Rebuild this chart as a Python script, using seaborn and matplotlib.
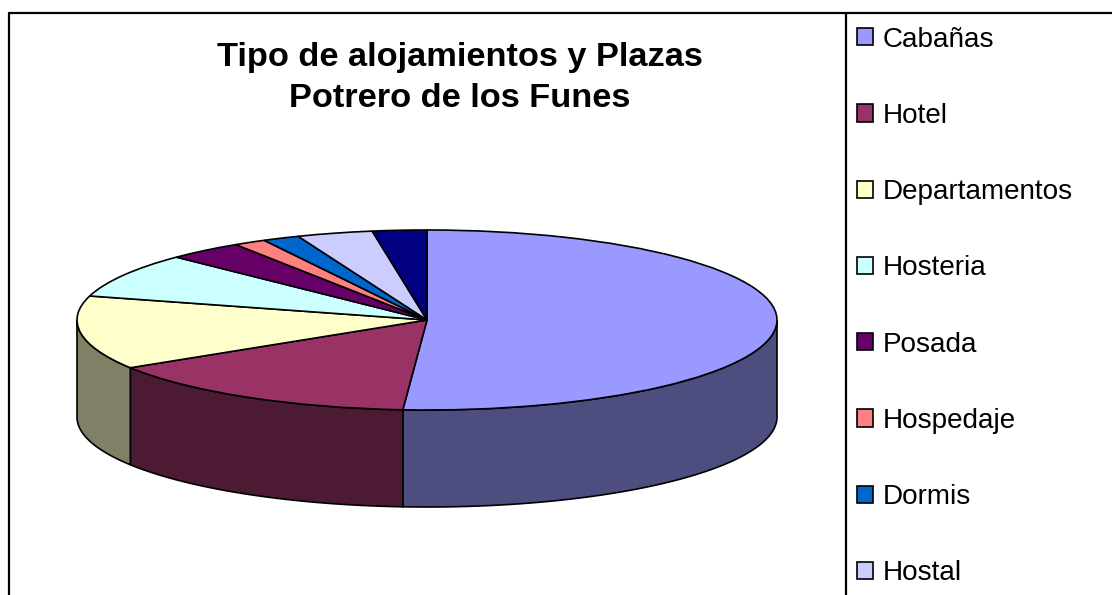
import numpy as np
import matplotlib
matplotlib.use('Agg')
import matplotlib.pyplot as plt
from matplotlib.lines import Line2D
import seaborn as sns

# values, share of plazas in %
categories = ['Cabañas', 'Hotel', 'Departamentos', 'Hosteria', 'Posada',
              'Hospedaje', 'Dormis', 'Hostal']
values = [51.1, 15.0, 13.2, 8.0, 3.5, 1.5, 1.7, 3.5, 2.5]  # last slice has no visible legend row
colors = ['#9999FF', '#993366', '#FFFFCC', '#CCFFFF', '#660066',
          '#FF8080', '#0066CC', '#CCCCFF', '#000080']
title = 'Tipo de alojamientos y Plazas\nPotrero de los Funes'

sns.set_theme(style='white')
plt.rcParams['font.family'] = ['Liberation Sans', 'DejaVu Sans']

W, H = 1112, 595
cx, cy, rx, ry, depth = 427, 320, 350, 90, 97

fig = plt.figure(figsize=(W / 100, H / 100), dpi=100)
ax = fig.add_axes([0, 0, 1, 1])

palette = sns.color_palette(colors)
wedges, _ = ax.pie(values, colors=palette, startangle=90, counterclock=False,
                   wedgeprops={'edgecolor': 'black', 'linewidth': 1.2, 'zorder': 3})

# axes span the whole figure, the unit circle becomes the ellipse of the top
ax.set_aspect('auto')
ax.set_xlim(-cx / rx, (W - cx) / rx)
ax.set_ylim((cy - H) / ry, cy / ry)
ax.axis('off')

# side wall of the slices that face the viewer
drop = depth / ry
ends = 90 - np.cumsum(values) * 3.6
starts = np.r_[90, ends[:-1]]
for a0, a1, col in zip(starts, ends, palette):
    a0 = min(a0, 0)
    a1 = max(a1, -180)
    if a1 >= a0:
        continue
    t = np.radians(np.linspace(a0, a1, 120))
    xs = np.r_[np.cos(t), np.cos(t[::-1])]
    ys = np.r_[np.sin(t), np.sin(t[::-1]) - drop]
    ax.fill(xs, ys, facecolor=tuple(c * 0.5 for c in col), edgecolor='black',
            linewidth=1.2, zorder=2)

fig.text(460 / W, 1 - 78 / H, title, ha='center', va='center', fontsize=24.75,
         fontweight='bold', color='black', linespacing=1.4)

# chart frame and legend divider, cut by the bottom and right edge
frame = dict(color='black', linewidth=1.6, transform=fig.transFigure)
fig.add_artist(Line2D([9 / W, 9 / W], [0, 1 - 13 / H], **frame))
fig.add_artist(Line2D([9 / W, 1], [1 - 13 / H, 1 - 13 / H], **frame))
fig.add_artist(Line2D([846 / W, 846 / W], [0, 1 - 13 / H], **frame))

leg = ax.legend(wedges[:8], categories, loc='upper left',
                bbox_to_anchor=(851 / W, 1 - 21 / H), bbox_transform=fig.transFigure,
                frameon=False, fontsize=20.1, labelcolor='black',
                handlelength=0.58, handleheight=0.58, handletextpad=0.34,
                labelspacing=1.80, borderpad=0.2, borderaxespad=0)

fig.savefig('out.png', dpi=100)
